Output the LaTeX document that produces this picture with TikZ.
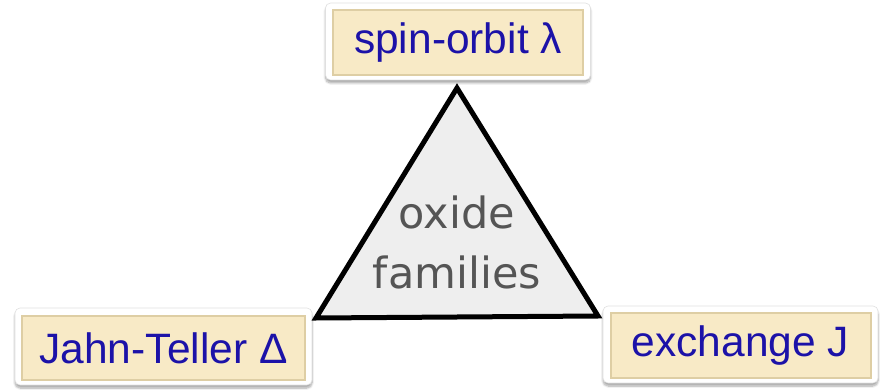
\documentclass[tikz,border=0pt]{standalone}
\usepackage{fontspec}
\setmainfont{Liberation Sans}
\newfontfamily\handfont{DejaVu Sans}
\usetikzlibrary{shadows.blur}
\definecolor{cream}{RGB}{248,234,198}
\definecolor{creamedge}{RGB}{222,206,164}
\definecolor{labelblue}{RGB}{28,18,168}
\definecolor{trifill}{RGB}{238,238,238}
\definecolor{handgray}{RGB}{85,85,85}
\tikzset{
  frame/.style={fill=white, rounded corners=5pt, draw=black!12, line width=0.6pt,
    blur shadow={shadow xshift=0pt, shadow yshift=-3pt, shadow blur steps=8, shadow opacity=35}},
  plate/.style={fill=cream, draw=creamedge, line width=2pt,
    font=\fontsize{42.5}{48}\selectfont, text=labelblue, inner sep=0pt},
}
\begin{document}
\begin{tikzpicture}[x=1pt,y=-1pt]
\useasboundingbox (0,0) rectangle (884,390);
% top box
\node[frame, minimum width=265pt, minimum height=77pt] (soframe) at (458,41.5) {};
\node[plate, minimum width=250pt, minimum height=65pt] (so) at (458,42.5) {spin-orbit λ};
% bottom left box
\node[frame, minimum width=297pt, minimum height=77pt] (jtframe) at (163.5,346.5) {};
\node[plate, minimum width=283pt, minimum height=64pt] (jt) at (163.5,348) {Jahn-Teller Δ};
% bottom right box
\node[frame, minimum width=275pt, minimum height=77pt] (exframe) at (740.5,344.5) {};
\node[plate, minimum width=260pt, minimum height=65pt] (ex) at (740.5,345.5) {exchange J};
% triangle
\coordinate (A) at (457,88);
\coordinate (B) at (316,318);
\coordinate (C) at (598,316);
\draw[fill=trifill, line width=5pt, line join=miter] (A) -- (B) -- (C) -- cycle;
\node[font=\handfont\fontsize{43}{60}\selectfont, text=handgray, align=center] (of) at (457,242) {oxide\\families};
\end{tikzpicture}
\end{document}
